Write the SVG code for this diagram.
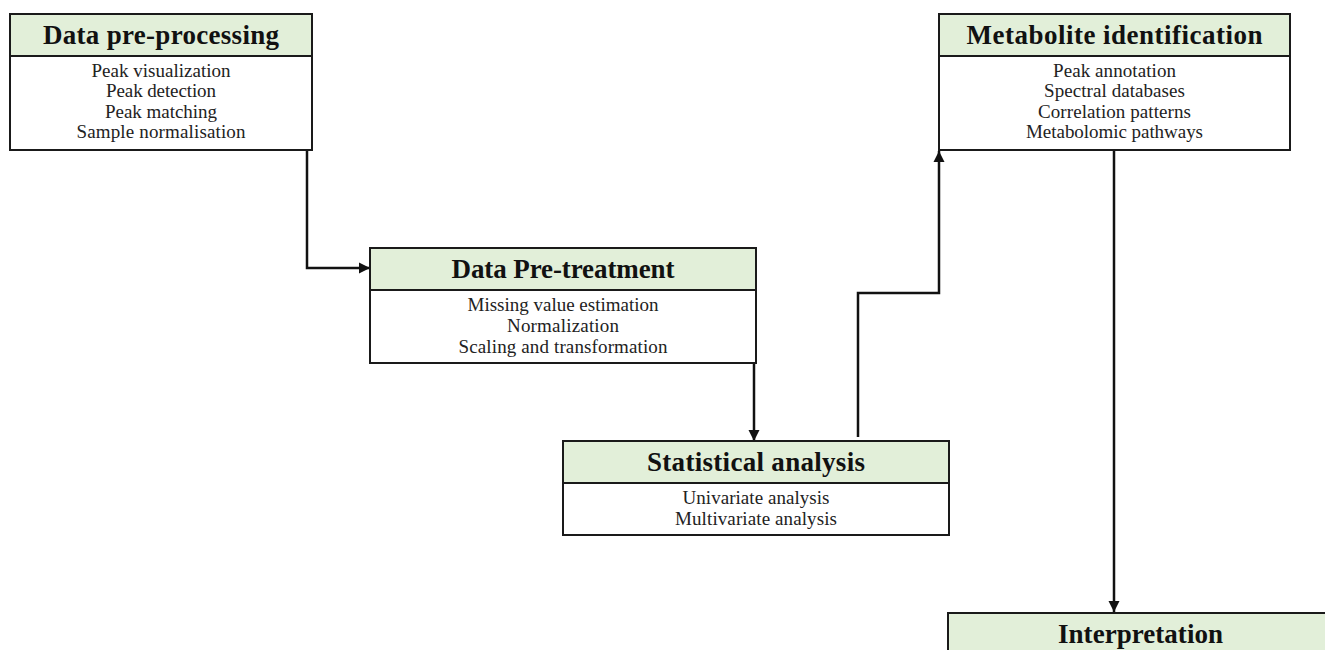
<svg xmlns="http://www.w3.org/2000/svg" width="1325" height="650" viewBox="0 0 1325 650">
<style>
.hd{fill:#e2efd9;stroke:#1a1a1a;stroke-width:2}
.bd{fill:#ffffff;stroke:#1a1a1a;stroke-width:2}
.ht{font-family:"Liberation Serif","DejaVu Serif",serif;font-weight:bold;font-size:27px;fill:#111;text-anchor:middle}
.bt{font-family:"Liberation Serif","DejaVu Serif",serif;font-size:19px;fill:#222;text-anchor:middle}
.cn{fill:none;stroke:#111;stroke-width:2.5}
</style>
<defs>
<marker id="ah" viewBox="0 0 10 10" refX="10" refY="5" markerWidth="4.5" markerHeight="4.5" orient="auto" markerUnits="strokeWidth">
<path d="M0,0 L10,5 L0,10 z" fill="#111"/>
</marker>
</defs>
<rect width="1325" height="650" fill="#ffffff"/>
<g id="connectors">
<path class="cn" d="M307,150 V268 H370" marker-end="url(#ah)"/>
<path class="cn" d="M754,363 V441" marker-end="url(#ah)"/>
<path class="cn" d="M858,437 V293 H939 V151" marker-end="url(#ah)"/>
<path class="cn" d="M1114,150 V612" marker-end="url(#ah)"/>
</g>
<g id="data-preprocessing">
<rect class="bd" x="10" y="56" width="302" height="94"/>
<rect class="hd" x="10" y="14" width="302" height="42"/>
<text class="ht" x="161" y="44" textLength="236">Data pre-processing</text>
<text class="bt" x="161" y="77" textLength="139">Peak visualization</text>
<text class="bt" x="161" y="97" textLength="110">Peak detection</text>
<text class="bt" x="161" y="118" textLength="112">Peak matching</text>
<text class="bt" x="161" y="138" textLength="169">Sample normalisation</text>
</g>
<g id="data-pretreatment">
<rect class="bd" x="370" y="290" width="386" height="73"/>
<rect class="hd" x="370" y="248" width="386" height="42"/>
<text class="ht" x="563" y="278" textLength="223">Data Pre-treatment</text>
<text class="bt" x="563" y="311" textLength="191">Missing value estimation</text>
<text class="bt" x="563" y="332" textLength="112">Normalization</text>
<text class="bt" x="563" y="353" textLength="209">Scaling and transformation</text>
</g>
<g id="statistical-analysis">
<rect class="bd" x="563" y="483" width="386" height="52"/>
<rect class="hd" x="563" y="441" width="386" height="42"/>
<text class="ht" x="756" y="471" textLength="218">Statistical analysis</text>
<text class="bt" x="756" y="504" textLength="147">Univariate analysis</text>
<text class="bt" x="756" y="525" textLength="162">Multivariate analysis</text>
</g>
<g id="metabolite-identification">
<rect class="bd" x="939" y="56" width="351" height="94"/>
<rect class="hd" x="939" y="14" width="351" height="42"/>
<text class="ht" x="1114.5" y="44" textLength="296">Metabolite identification</text>
<text class="bt" x="1114.5" y="77" textLength="123">Peak annotation</text>
<text class="bt" x="1114.5" y="97" textLength="141">Spectral databases</text>
<text class="bt" x="1114.5" y="118" textLength="153">Correlation patterns</text>
<text class="bt" x="1114.5" y="138" textLength="177">Metabolomic pathways</text>
</g>
<g id="interpretation">
<rect class="hd" x="948" y="613" width="390" height="50"/>
<text class="ht" x="1140.5" y="643" textLength="165">Interpretation</text>
</g>
</svg>
